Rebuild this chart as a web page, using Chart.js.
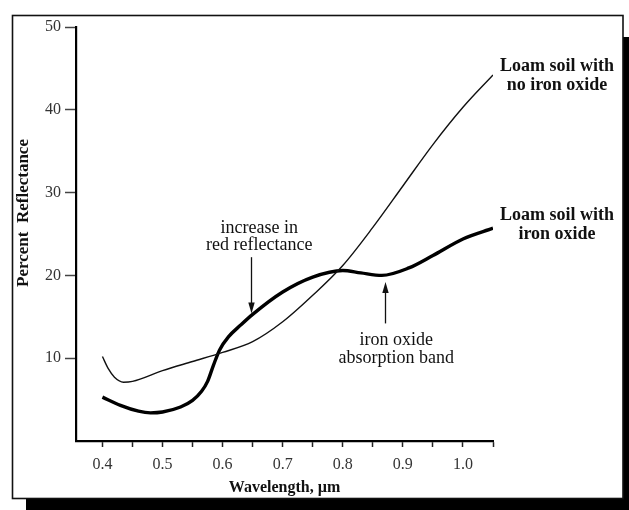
<!DOCTYPE html>
<html>
<head>
<meta charset="utf-8">
<script src="https://cdn.jsdelivr.net/npm/chart.js@4/dist/chart.umd.min.js"></script>
<style>
html,body{margin:0;padding:0;background:#fff;}
canvas{display:block;}
</style>
</head>
<body>
<canvas id="c" width="629" height="510"></canvas>
<script>
// Wavelength (µm) and percent reflectance
const noIronWl  = [0.40, 0.41, 0.42, 0.435, 0.45, 0.50, 0.55, 0.60, 0.65, 0.70, 0.75, 0.80, 0.85, 0.90, 0.95, 1.00, 1.05];
const noIronRef = [10.2, 8.7, 7.7, 7.1, 7.2, 8.5, 9.6, 10.7, 12.0, 14.4, 17.6, 21.2, 25.8, 30.8, 35.8, 40.3, 44.2];

const ironWl  = [0.40, 0.43, 0.46, 0.48, 0.50, 0.53, 0.55, 0.565, 0.575, 0.585, 0.595, 0.61, 0.63, 0.65, 0.70, 0.75, 0.80, 0.83, 0.865, 0.91, 0.95, 1.00, 1.05];
const ironRef = [5.3, 4.3, 3.6, 3.4, 3.5, 4.1, 4.9, 6.0, 7.2, 9.2, 11.0, 12.6, 14.0, 15.3, 18.0, 19.8, 20.6, 20.3, 20.0, 20.9, 22.4, 24.4, 25.7];

const xTickValues = [0.40, 0.45, 0.50, 0.55, 0.60, 0.65, 0.70, 0.75, 0.80, 0.85, 0.90, 0.95, 1.00, 1.05];
const xLabelValues = [0.4, 0.5, 0.6, 0.7, 0.8, 0.9, 1.0];
const yTickValues = [10, 20, 30, 40, 50];

const seriesNames = ['Loam soil with no iron oxide', 'Loam soil with iron oxide'];
const xTitle = 'Wavelength, µm';
const yTitle = 'Percent  Reflectance';

const toXY = (xs, ys) => xs.map((x, i) => ({x: x, y: ys[i]}));

const SERIF = '"Liberation Serif", "DejaVu Serif", serif';

const framePlugin = {
  id: 'frame',
  beforeDraw(chart) {
    const ctx = chart.ctx;
    ctx.save();
    ctx.fillStyle = '#fff';
    ctx.fillRect(0, 0, chart.width, chart.height);
    // shadow
    ctx.fillStyle = '#000';
    ctx.fillRect(26, 37, chart.width - 26, chart.height - 37);
    // frame
    ctx.fillStyle = '#fff';
    ctx.fillRect(12, 15, 611, 484);
    ctx.strokeStyle = '#111';
    ctx.lineWidth = 1.6;
    ctx.strokeRect(12.5, 15.5, 610.5, 483);
    ctx.restore();
  }
};

const annotPlugin = {
  id: 'annot',
  afterDraw(chart) {
    const ctx = chart.ctx;
    const xs = chart.scales.x, ys = chart.scales.y;
    const ca = chart.chartArea;
    const px = v => xs.getPixelForValue(v);
    const py = v => ys.getPixelForValue(v);
    ctx.save();
    ctx.fillStyle = '#111';
    ctx.strokeStyle = '#111';
    ctx.textAlign = 'center';
    ctx.textBaseline = 'middle';

    // annotation texts
    ctx.font = '18px ' + SERIF;
    ctx.fillText('increase in', px(0.661), py(25.7));
    ctx.fillText('red reflectance', px(0.661), py(23.6));
    ctx.fillText('iron oxide', px(0.889), py(12.2));
    ctx.fillText('absorption band', px(0.889), py(10.0));

    function arrow(xv, fromV, toV) {
      const x = Math.round(px(xv)) + 0.5;
      const y0 = py(fromV), y1 = py(toV);
      const dir = y1 > y0 ? 1 : -1;
      ctx.lineWidth = 1.3;
      ctx.beginPath();
      ctx.moveTo(x, y0);
      ctx.lineTo(x, y1 - dir * 6);
      ctx.stroke();
      ctx.beginPath();
      ctx.moveTo(x, y1);
      ctx.lineTo(x - 3.2, y1 - dir * 11);
      ctx.lineTo(x + 3.2, y1 - dir * 11);
      ctx.closePath();
      ctx.fill();
    }
    arrow(0.647, 22.2, 15.4);
    arrow(0.871, 14.2, 19.2);

    // series labels
    ctx.font = 'bold 18px ' + SERIF;
    const lx = ca.right + 64;
    ctx.fillText('Loam soil with', lx, py(45.2));
    ctx.fillText('no iron oxide', lx, py(42.9));
    ctx.fillText('Loam soil with', lx, py(27.2));
    ctx.fillText('iron oxide', lx, py(25.0));

    // axis titles
    ctx.font = 'bold 16px ' + SERIF;
    ctx.fillText(xTitle, (ca.left + ca.right) / 2, 488);
    ctx.save();
    ctx.translate(24, 213);
    ctx.rotate(-Math.PI / 2);
    ctx.font = 'bold 17px ' + SERIF;
    ctx.fillText(yTitle, 0, 0);
    ctx.restore();
    ctx.restore();
  }
};

new Chart(document.getElementById('c'), {
  type: 'line',
  data: {
    datasets: [
      {
        label: seriesNames[0],
        data: toXY(noIronWl, noIronRef),
        borderColor: '#111',
        borderWidth: 1.4,
        pointRadius: 0,
        cubicInterpolationMode: 'monotone',
        fill: false
      },
      {
        label: seriesNames[1],
        data: toXY(ironWl, ironRef),
        borderColor: '#000',
        borderWidth: 3.4,
        pointRadius: 0,
        cubicInterpolationMode: 'monotone',
        fill: false
      }
    ]
  },
  options: {
    responsive: false,
    animation: false,
    devicePixelRatio: 1,
    layout: { padding: { top: 27, right: 136, left: 0, bottom: 0 } },
    plugins: {
      legend: { display: false },
      tooltip: { enabled: false },
      title: { display: false }
    },
    scales: {
      x: {
        type: 'linear',
        min: 0.356,
        max: 1.05,
        afterBuildTicks(scale) { scale.ticks = xTickValues.map(v => ({value: v})); },
        afterFit(scale) { scale.height = 69; },
        grid: { drawOnChartArea: false, drawTicks: true, tickLength: 6, tickColor: '#222', tickWidth: 1.5 },
        border: { display: true, color: '#000', width: 2.2 },
        ticks: {
          autoSkip: false,
          maxRotation: 0,
          padding: 8,
          color: '#333',
          font: { family: SERIF, size: 16 },
          callback(v) {
            const hit = xLabelValues.some(l => Math.abs(l - v) < 1e-6);
            return hit ? Number(v).toFixed(1) : '';
          }
        },
        title: { display: false }
      },
      y: {
        type: 'linear',
        min: 0,
        max: 50,
        afterBuildTicks(scale) { scale.ticks = yTickValues.map(v => ({value: v})); },
        afterFit(scale) { scale.width = 76; },
        grid: { drawOnChartArea: false, drawTicks: true, tickLength: 11, tickColor: '#444', tickWidth: 1.5 },
        border: { display: true, color: '#000', width: 2.2 },
        ticks: {
          autoSkip: false,
          padding: 4,
          color: '#333',
          font: { family: SERIF, size: 16 },
          callback(v) { return String(v); }
        },
        title: { display: false }
      }
    }
  },
  plugins: [framePlugin, annotPlugin]
});
</script>
</body>
</html>
